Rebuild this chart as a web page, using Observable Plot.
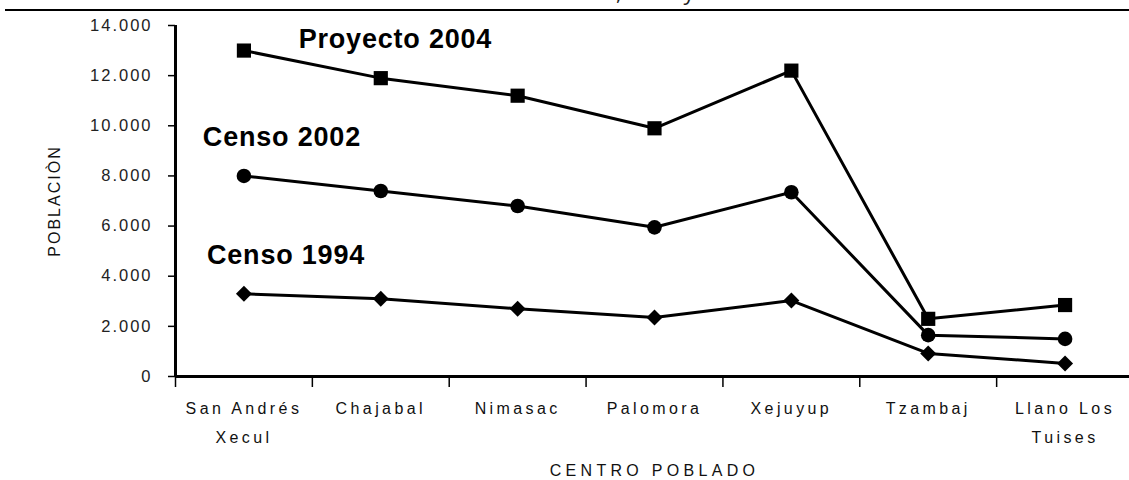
<!DOCTYPE html>
<html>
<head>
<meta charset="utf-8">
<script src="https://cdn.jsdelivr.net/npm/d3@7"></script>
<script src="https://cdn.jsdelivr.net/npm/@observablehq/plot@0.6"></script>
<style>
  html, body { margin: 0; padding: 0; background: #fff; }
  #wrap { position: relative; width: 1129px; height: 480px; overflow: hidden; }
  #head { position: relative; height: 11px; overflow: hidden; }
  #title { position: absolute; left: 0; width: 1210px; top: -20px; text-align: center;
           font: 22px "Open Sans", sans-serif; line-height: 22px; color: #222; white-space: nowrap; }
  #rule { position: absolute; left: 5px; right: 0; top: 9px; height: 2px; background: #000; }
</style>
</head>
<body>
<div id="wrap">
  <div id="head"><div id="title">Población 1994, 2002 y 2004</div><div id="rule"></div></div>
  <div id="chart"></div>
</div>
<script>
// ---- data ----
const categories = ["San Andrés\nXecul", "Chajabal", "Nimasac", "Palomora", "Xejuyup", "Tzambaj", "Llano Los\nTuises"];
const proyecto2004 = [13000, 11900, 11200, 9900, 12200, 2300, 2850];
const censo2002 = [8000, 7400, 6800, 5950, 7350, 1650, 1500];
const censo1994 = [3300, 3100, 2700, 2350, 3030, 920, 520];
const seriesNames = ["Proyecto 2004", "Censo 2002", "Censo 1994"];
const yTicks = [0, 2000, 4000, 6000, 8000, 10000, 12000, 14000];
const xTitle = "CENTRO POBLADO";
const yTitle = "POBLACIÒN";

// ---- build ----
const seriesValues = [proyecto2004, censo2002, censo1994];
const symbols = ["square", "circle", "diamond2"];
const radii = [8, 7.3, 7.2];
const data = seriesNames.flatMap((s, k) => seriesValues[k].map((v, i) => ({series: s, i, value: v})));
const bounds = d3.range(categories.length + 1).map(i => i - 0.5);
const fmt = d => d3.format(",")(d).replace(/,/g, ".");

// label anchors (data coordinates: category index, population)
const seriesLabels = [
  {text: seriesNames[0], i: 0.40, value: 13460},
  {text: seriesNames[1], i: -0.30, value: 9530},
  {text: seriesNames[2], i: -0.27, value: 4830}
];

const chart = Plot.plot({
  width: 1129,
  height: 469,
  marginTop: 14,
  marginBottom: 104,
  marginLeft: 175,
  marginRight: -4,
  style: {fontFamily: "'Liberation Sans', Arial, sans-serif", background: "#fff", overflow: "visible", color: "#000"},
  x: {type: "linear", domain: [-0.5, categories.length - 0.5], axis: null},
  y: {domain: [0, 14000], axis: null},
  marks: [
    Plot.axisY({ticks: yTicks, tickSize: 7, tickPadding: 16, tickFormat: fmt, label: null, fontSize: 16.5, stroke: "#000", strokeWidth: 1.5, fill: "#222"}),
    Plot.axisX({ticks: bounds, tickSize: 11, tickFormat: () => "", label: null, stroke: "#000", strokeWidth: 1.5}),
    Plot.ruleX([-0.5], {y1: 0, y2: 14000, stroke: "#000", strokeWidth: 3}),
    Plot.ruleY([0], {x1: -0.5, x2: categories.length - 0.5, stroke: "#000", strokeWidth: 3}),
    Plot.text(categories, {x: (d, i) => i, text: d => d, frameAnchor: "bottom", lineAnchor: "top", dy: 17, lineHeight: 1.8, fontSize: 16, fill: "#111"}),
    Plot.text([xTitle], {text: d => d, frameAnchor: "bottom", lineAnchor: "middle", dy: 94, fontSize: 16, fill: "#111"}),
    Plot.text([yTitle], {x: () => -0.5, y: () => 7000, text: d => d, rotate: -90, dx: -121, fontSize: 16, fill: "#111"}),
    Plot.line(data, {x: "i", y: "value", z: "series", stroke: "#000", strokeWidth: 3}),
    ...seriesNames.map((s, k) => Plot.dot(data.filter(d => d.series === s), {x: "i", y: "value", symbol: symbols[k], r: radii[k], fill: "#000", stroke: "none"})),
    Plot.text(seriesLabels, {x: "i", y: "value", text: "text", textAnchor: "start", fontSize: 27, fontWeight: "bold", fill: "#000"})
  ]
});

// letter spacing like the original bitmap-style rendering
const catSet = new Set(categories.flatMap(c => c.split("\n")));
d3.select(chart).selectAll("text").each(function () {
  const t = this.textContent;
  let ls = null;
  if (/^[0-9.]+$/.test(t)) ls = "2px";
  else if (t === xTitle) ls = "4.3px";
  else if (t === yTitle) ls = "2px";
  else if (seriesNames.includes(t)) ls = "0.8px";
  else if (categories.includes(t) || catSet.has(t)) ls = "3.4px";
  if (ls) d3.select(this).style("letter-spacing", ls);
});
d3.select(chart).selectAll("tspan").each(function () {
  if (catSet.has(this.textContent)) d3.select(this).style("letter-spacing", "3.4px");
});
document.getElementById("chart").appendChild(chart);
</script>
</body>
</html>
